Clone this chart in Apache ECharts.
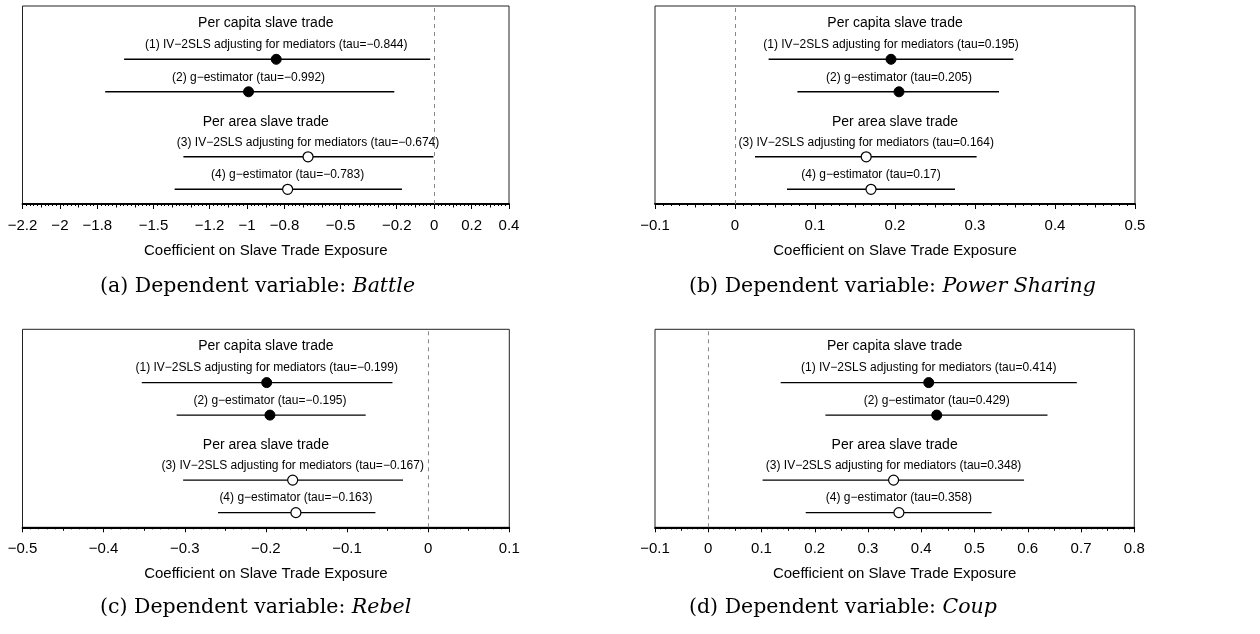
<!DOCTYPE html>
<html>
<head>
<meta charset="utf-8">
<script src="https://cdn.jsdelivr.net/npm/echarts@6/dist/echarts.min.js"></script>
<style>
html,body{margin:0;padding:0;background:#fff;}
#chart{width:1260px;height:634px;}
</style>
</head>
<body>
<div id="chart"></div>
<script>
// ---------- data ----------
const rowLabels = ["(1) IV\u22122SLS adjusting for mediators", "(2) g\u2212estimator", "(3) IV\u22122SLS adjusting for mediators", "(4) g\u2212estimator"];
const groupHeaders = ["Per capita slave trade", "Per area slave trade"];

const battleEst = [-0.844, -0.992, -0.674, -0.783];
const battleLo  = [-1.657, -1.758, -1.340, -1.387];
const battleHi  = [-0.021, -0.213, -0.004, -0.172];

const powerEst = [0.195, 0.205, 0.164, 0.17];
const powerLo  = [0.042, 0.078, 0.025, 0.065];
const powerHi  = [0.348, 0.330, 0.302, 0.275];

const rebelEst = [-0.199, -0.195, -0.167, -0.163];
const rebelLo  = [-0.353, -0.310, -0.302, -0.259];
const rebelHi  = [-0.044, -0.077, -0.031, -0.065];

const coupEst = [0.414, 0.429, 0.348, 0.358];
const coupLo  = [0.136, 0.220, 0.102, 0.183];
const coupHi  = [0.692, 0.637, 0.593, 0.532];

const battleTicks = [-2.2, -2, -1.8, -1.5, -1.2, -1, -0.8, -0.5, -0.2, 0, 0.2, 0.4];
const powerTicks  = [-0.1, 0, 0.1, 0.2, 0.3, 0.4, 0.5];
const rebelTicks  = [-0.5, -0.4, -0.3, -0.2, -0.1, 0, 0.1];
const coupTicks   = [-0.1, 0, 0.1, 0.2, 0.3, 0.4, 0.5, 0.6, 0.7, 0.8];

const battleMidTicks = [-2.1, -1.9, -1.7, -1.6, -1.4, -1.3, -1.1, -0.9, -0.7, -0.6, -0.4, -0.3, -0.1, 0.1, 0.3];
const powerMidTicks  = [-0.05, 0.05, 0.15, 0.25, 0.35, 0.45];
const rebelMidTicks  = [-0.45, -0.35, -0.25, -0.15, -0.05, 0.05];
const coupMidTicks   = [-0.05, 0.05, 0.15, 0.25, 0.35, 0.45, 0.55, 0.65, 0.75];

const axisTitle = "Coefficient on Slave Trade Exposure";
const captionPrefix = ["(a) Dependent variable: ", "(b) Dependent variable: ", "(c) Dependent variable: ", "(d) Dependent variable: "];
const captionVar = ["Battle", "Power Sharing", "Rebel", "Coup"];

// ---------- layout ----------
const SANS = "'Liberation Sans', Arial, Helvetica, sans-serif";
const SERIF = "'DejaVu Serif', 'Liberation Serif', serif";
const rowY = [5, 4, 2, 1];
const headerY = [6.117, 3.08];
const yMin = 0.548, yMax = 6.64;
const grids = [
  {left: 22.5, top: 6, width: 486.5, height: 198},
  {left: 655, top: 6, width: 480, height: 198},
  {left: 22.5, top: 329.3, width: 486.8, height: 198},
  {left: 655, top: 329.3, width: 479.3, height: 198}
];
const captionPos = [[100, 287], [689, 287], [100, 608], [689, 608]];

const panels = [
  {est: battleEst, lo: battleLo, hi: battleHi, min: -2.2, max: 0.4, interval: 0.2, ticks: battleTicks, mid: battleMidTicks},
  {est: powerEst, lo: powerLo, hi: powerHi, min: -0.1, max: 0.5, interval: 0.1, ticks: powerTicks, mid: powerMidTicks},
  {est: rebelEst, lo: rebelLo, hi: rebelHi, min: -0.5, max: 0.1, interval: 0.1, ticks: rebelTicks, mid: rebelMidTicks},
  {est: coupEst, lo: coupLo, hi: coupHi, min: -0.1, max: 0.8, interval: 0.1, ticks: coupTicks, mid: coupMidTicks}
];

function fmt(v) {
  const r = Math.round(v * 1000) / 1000;
  return String(r).replace('-', '\u2212');
}

const gridOpts = [], xAxes = [], yAxes = [], series = [], graphics = [];

panels.forEach((p, k) => {
  gridOpts.push(Object.assign({show: true, borderColor: '#222', borderWidth: 1, backgroundColor: 'transparent'}, grids[k]));
  // main x axis
  xAxes.push({
    type: 'value', gridIndex: k, min: p.min, max: p.max, interval: p.interval,
    position: 'bottom',
    axisLine: {show: true, onZero: false, lineStyle: {color: '#000', width: 1.8}},
    axisTick: {show: true, customValues: p.ticks, length: 5, lineStyle: {color: '#000', width: 1}},
    minorTick: {show: true, splitNumber: 10, length: 2, lineStyle: {color: '#000', width: 1}},
    splitLine: {show: false}, minorSplitLine: {show: false},
    axisLabel: {show: true, customValues: p.ticks, formatter: fmt, color: '#000', fontFamily: SANS, fontSize: 15, margin: 14},
    name: axisTitle, nameLocation: 'middle', nameGap: 39,
    nameTextStyle: {color: '#000', fontFamily: SANS, fontSize: 15}
  });
  // medium ticks axis
  xAxes.push({
    type: 'value', gridIndex: k, min: p.min, max: p.max, interval: p.interval,
    position: 'bottom', offset: 0,
    axisLine: {show: false},
    axisTick: {show: true, customValues: p.mid, length: 3.5, lineStyle: {color: '#000', width: 1}},
    axisLabel: {show: false}, splitLine: {show: false}
  });
  yAxes.push({type: 'value', gridIndex: k, min: yMin, max: yMax, show: false, splitLine: {show: false}});

  const xi = 2 * k;
  // CI lines
  series.push({
    type: 'custom', xAxisIndex: xi, yAxisIndex: k, silent: true, z: 2,
    data: p.est.map((_, i) => [p.lo[i], p.hi[i], rowY[i]]),
    encode: {x: [0, 1], y: 2},
    renderItem: function (params, api) {
      const a = api.coord([api.value(0), api.value(2)]);
      const b = api.coord([api.value(1), api.value(2)]);
      return {type: 'line', shape: {x1: a[0], y1: a[1], x2: b[0], y2: b[1]}, style: {stroke: '#000', lineWidth: 1.4}};
    },
    markLine: {
      silent: true, symbol: ['none', 'none'], label: {show: false},
      lineStyle: {color: '#888', type: [4, 4], width: 1},
      data: [{xAxis: 0}]
    }
  });
  // points with labels
  series.push({
    type: 'scatter', xAxisIndex: xi, yAxisIndex: k, z: 5, symbol: 'circle', symbolSize: 10,
    data: p.est.map((v, i) => ({
      value: [v, rowY[i]],
      name: rowLabels[i] + " (tau=" + fmt(v) + ")",
      itemStyle: i < 2 ? {color: '#000', borderColor: '#000', borderWidth: 1, opacity: 1} : {color: '#fff', borderColor: '#000', borderWidth: 1.2, opacity: 1}
    })),
    label: {show: true, position: 'top', distance: 2, formatter: '{b}', color: '#000', opacity: 1, fontFamily: SANS, fontSize: 12, lineHeight: 14},
    emphasis: {disabled: true}
  });
  // group headers
  series.push({
    type: 'scatter', xAxisIndex: xi, yAxisIndex: k, symbolSize: 0, silent: true,
    itemStyle: {opacity: 1},
    data: groupHeaders.map((h, j) => ({value: [(p.min + p.max) / 2, headerY[j]], name: h})),
    label: {show: true, position: 'inside', formatter: '{b}', color: '#000', opacity: 1, fontFamily: SANS, fontSize: 14},
    emphasis: {disabled: true}
  });
  // caption
  graphics.push({
    type: 'text', x: captionPos[k][0], y: captionPos[k][1],
    style: {
      text: '{n|' + captionPrefix[k] + '}{i|' + captionVar[k] + '}',
      align: 'left', verticalAlign: 'middle', fill: '#000',
      fontFamily: SERIF, fontSize: 20.5,
      rich: {
        n: {fontFamily: SERIF, fontSize: 20.5, fill: '#000'},
        i: {fontFamily: SERIF, fontSize: 20.5, fontStyle: 'italic', fill: '#000'}
      }
    }
  });
});

const chart = echarts.init(document.getElementById('chart'), null, {renderer: 'canvas'});
chart.setOption({
  animation: false,
  backgroundColor: '#fff',
  grid: gridOpts, xAxis: xAxes, yAxis: yAxes, series: series, graphic: graphics
});
</script>
</body>
</html>
